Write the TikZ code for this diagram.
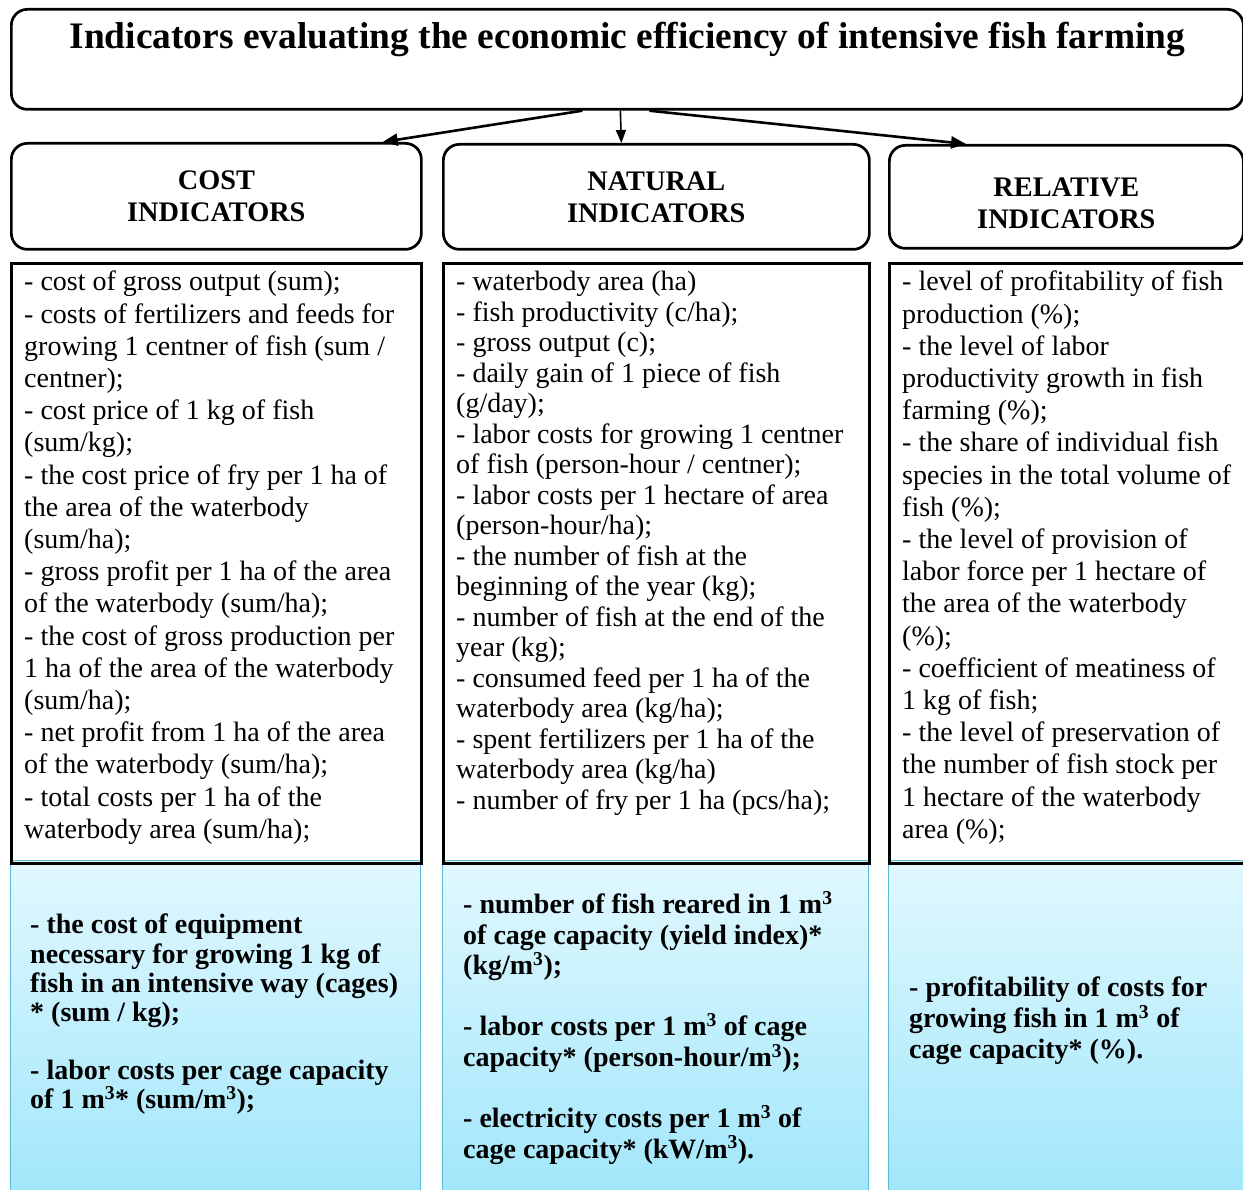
\documentclass[tikz,border=0pt]{standalone}
\usepackage{fontspec}
\setmainfont{Liberation Serif}
\usepackage{tikz}
\usetikzlibrary{arrows.meta}
\usetikzlibrary{positioning}

\definecolor{cagetop}{HTML}{E1F8FE}
\definecolor{cagebot}{HTML}{A0E6FB}
\definecolor{cageline}{HTML}{5CBAD3}

\begin{document}
\begin{tikzpicture}[x=1pt,y=-1pt,every node/.style={inner sep=0pt},
	headbox/.style={draw, line width=2.7pt, rounded corners=16pt, anchor=north west, align=center, font=\fontsize{28.3}{32}\selectfont\bfseries},
	listbox/.style={draw, line width=3pt, anchor=north west},
	cagebox/.style={draw=cageline, line width=1.2pt, anchor=north west, top color=cagetop, bottom color=cagebot},
	listtext/.style={anchor=north west, align=left, font=\fontsize{28}{32.2}\selectfont},
	cagetext/.style={anchor=north west, align=left, font=\fontsize{28}{30.8}\selectfont\bfseries},
	arr/.style={-{Triangle[length=15pt,width=12pt]}, line width=2.6pt}]
	
	\clip (0,0) rectangle (1243,1190);
	
	\node[headbox, minimum width=1232pt, minimum height=100pt] (top) at (10,8) {};
	\node[below=14pt of top.north, font=\fontsize{37.4}{42}\selectfont\bfseries] (title) {Indicators evaluating the economic efficiency of intensive fish farming};
	
	\node[headbox, minimum width=410pt, minimum height=106pt] (costh) at (10,142) {COST\\INDICATORS};
	\node[headbox, minimum width=426pt, minimum height=105pt] (naturh) at (442,143) {NATURAL\\INDICATORS};
	\node[headbox, minimum width=354pt, minimum height=103pt] (relh) at (888,144) {};
	\node[font=\fontsize{28.3}{32}\selectfont\bfseries, align=center] (relhl) at ([yshift=-6pt]relh.center) {RELATIVE\\INDICATORS};
	
	\draw[arr] ([xshift=-45pt]top.south) -- ([xshift=-40pt]costh.north east);
	\draw[-{Triangle[length=13pt,width=10pt]}, line width=1.6pt] ([xshift=-7pt]top.south) -- ([xshift=-35pt]naturh.north);
	\draw[arr] ([xshift=22pt]top.south) -- ([xshift=78pt]relh.north west);
	
	\node[cagebox, minimum width=410pt, minimum height=340pt] (costc) at (10,860) {};
	\node[cagebox, minimum width=426pt, minimum height=340pt] (naturc) at (442,860) {};
	\node[cagebox, minimum width=362pt, minimum height=340pt] (relc) at (888,860) {};
	
	\node[listbox, minimum width=410pt, minimum height=600pt] (costb) at (10,262) {};
	\node[listbox, minimum width=426pt, minimum height=600pt] (naturb) at (442,262) {};
	\node[listbox, minimum width=362pt, minimum height=600pt] (relb) at (888,262) {};
	
	\node[listtext] (costl) at (24,271) {- cost of gross output (sum);\\
		- costs of fertilizers and feeds for\\
		growing 1 centner of fish (sum /\\
		centner);\\
		- cost price of 1 kg of fish\\
		(sum/kg);\\
		- the cost price of fry per 1 ha of\\
		the area of the waterbody\\
		(sum/ha);\\
		- gross profit per 1 ha of the area\\
		of the waterbody (sum/ha);\\
		- the cost of gross production per\\
		1 ha of the area of the waterbody\\
		(sum/ha);\\
		- net profit from 1 ha of the area\\
		of the waterbody (sum/ha);\\
		- total costs per 1 ha of the\\
		waterbody area (sum/ha);};
	
	\node[listtext, font=\fontsize{28}{30.5}\selectfont] (naturl) at (456,271) {- waterbody area (ha)\\
		- fish productivity (c/ha);\\
		- gross output (c);\\
		- daily gain of 1 piece of fish\\
		(g/day);\\
		- labor costs for growing 1 centner\\
		of fish (person-hour / centner);\\
		- labor costs per 1 hectare of area\\
		(person-hour/ha);\\
		- the number of fish at the\\
		beginning of the year (kg);\\
		- number of fish at the end of the\\
		year (kg);\\
		- consumed feed per 1 ha of the\\
		waterbody area (kg/ha);\\
		- spent fertilizers per 1 ha of the\\
		waterbody area (kg/ha)\\
		- number of fry per 1 ha (pcs/ha);};
	
	\node[listtext] (rell) at (902,271) {- level of profitability of fish\\
		production (\%);\\
		- the level of labor\\
		productivity growth in fish\\
		farming (\%);\\
		- the share of individual fish\\
		species in the total volume of\\
		fish (\%);\\
		- the level of provision of\\
		labor force per 1 hectare of\\
		the area of the waterbody\\
		(\%);\\
		- coefficient of meatiness of\\
		1 kg of fish;\\
		- the level of preservation of\\
		the number of fish stock per\\
		1 hectare of the waterbody\\
		area (\%);};
	
	\node[cagetext, font=\fontsize{28}{29.2}\selectfont\bfseries] (costt) at (30,914) {- the cost of equipment\\
		necessary for growing 1 kg of\\
		fish in an intensive way (cages)\\
		* (sum / kg);\\[29pt]
		- labor costs per cage capacity\\
		of 1 m\textsuperscript{3}* (sum/m\textsuperscript{3});};
	
	\node[cagetext] (naturt) at (463,891) {- number of fish reared in 1 m\textsuperscript{3}\\
		of cage capacity (yield index)*\\
		(kg/m\textsuperscript{3});\\[30pt]
		- labor costs per 1 m\textsuperscript{3} of cage\\
		capacity* (person-hour/m\textsuperscript{3});\\[30pt]
		- electricity costs per 1 m\textsuperscript{3} of\\
		cage capacity* (kW/m\textsuperscript{3}).};
	
	\node[cagetext] (relt) at (909,977) {- profitability of costs for\\
		growing fish in 1 m\textsuperscript{3} of\\
		cage capacity* (\%).};
	
\end{tikzpicture}
\end{document}
